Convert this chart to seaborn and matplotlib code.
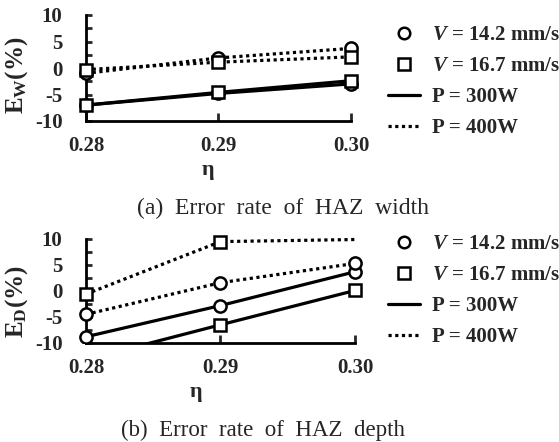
import matplotlib
matplotlib.use("Agg")
import matplotlib.pyplot as plt
import seaborn as sns
from matplotlib.lines import Line2D
from matplotlib.patches import Rectangle

sns.set_style("ticks")
plt.rcParams['font.family'] = ['Liberation Serif', 'DejaVu Serif']
plt.rcParams['mathtext.fontset'] = 'custom'
plt.rcParams['mathtext.rm'] = 'Liberation Serif:bold'
plt.rcParams['mathtext.bf'] = 'Liberation Serif:bold'
plt.rcParams['mathtext.it'] = 'Liberation Serif:bold:italic'
plt.rcParams['axes.unicode_minus'] = False

# ---- data ----
eta = [0.28, 0.29, 0.30]
eta_ticks = ["0.28", "0.29", "0.30"]
y_ticks = [-10, -5, 0, 5, 10]

# (a) HAZ width error rate (%)
w_300_v142 = [-7.0, -4.8, -3.0]
w_300_v167 = [-7.0, -4.6, -2.4]
w_400_v142 = [-1.0, 1.9, 3.7]
w_400_v167 = [-0.3, 1.1, 2.1]

# (b) HAZ depth error rate (%)
d_300_v142 = [-8.8, -2.8, 3.7]
d_300_v167 = [-13.2, -6.5, 0.1]
d_400_v142 = [-4.5, 1.6, 5.3]
d_400_v167 = [-0.6, 9.5, 9.9]

legend_labels = [r'$\mathit{V}$ = 14.2 mm/s', r'$\mathit{V}$ = 16.7 mm/s',
                 'P = 300W', 'P = 400W']
captions = ['(a)  Error  rate  of  HAZ  width', '(b)  Error  rate  of  HAZ  depth']

W, H = 559, 442
fig = plt.figure(figsize=(W / 100, H / 100), dpi=100)

def fx(px):
    return px / W

def fy(py):
    return 1 - py / H

ax1 = fig.add_axes([fx(86), fy(121), fx(351 - 86), (121 - 15) / H])
ax2 = fig.add_axes([fx(86), fy(343), fx(355 - 86), (343 - 239) / H])

DOT = (0, (1, 1.1))
LW = 2.3
MS = 8.8
MEW = 1.8
TFS = 15

def draw(ax, series):
    for vals, mk, ls, me in series:
        sns.lineplot(x=eta, y=vals, ax=ax, color='black', linestyle=ls, linewidth=LW,
                     marker=mk, markersize=MS, markerfacecolor='white',
                     markeredgecolor='black', markeredgewidth=MEW, markevery=me,
                     legend=False, zorder=3)
        line = ax.lines[-1]
        line.set_clip_on(True)
        # clip only below the x-axis (values out of range), keep edge markers whole
        rect = Rectangle((0.27, -10), 0.04, 30, transform=ax.transData)
        line.set_clip_path(rect)
    ax.set_xlim(0.28, 0.30)
    ax.set_ylim(-10, 10)
    ax.set_xticks(eta)
    ax.set_xticklabels(eta_ticks)
    ax.set_yticks(y_ticks)
    ax.set_yticks([-7.5, -2.5, 2.5, 7.5], minor=True)
    ax.set_xlabel('')
    ax.set_ylabel('')
    for s in ['top', 'right']:
        ax.spines[s].set_visible(False)
    for s in ['left', 'bottom']:
        ax.spines[s].set_linewidth(2.0)
        ax.spines[s].set_color('black')
    ax.tick_params(axis='y', which='both', direction='in', length=4, width=2.0, pad=17)
    ax.tick_params(axis='x', which='both', direction='in', length=6, width=2.0, pad=11)
    for lab in ax.get_xticklabels() + ax.get_yticklabels():
        lab.set_fontsize(TFS)
        lab.set_fontweight('bold')
    ax.set_facecolor('none')

draw(ax1, [
    (w_300_v142, 'o', '-', None),
    (w_300_v167, 's', '-', None),
    (w_400_v142, 'o', DOT, None),
    (w_400_v167, 's', DOT, None),
])
draw(ax2, [
    (d_300_v142, 'o', '-', None),
    (d_300_v167, 's', '-', None),
    (d_400_v142, 'o', DOT, None),
    (d_400_v167, 's', DOT, [0, 1]),
])

# y labels
fig.text(fx(17), fy(75), r'$\mathrm{E_W}$(%)', rotation=90, ha='center', va='center',
         fontsize=18, fontweight='bold')
fig.text(fx(17), fy(302), r'$\mathrm{E_D}$(%)', rotation=90, ha='center', va='center',
         fontsize=18, fontweight='bold')
# x labels
fig.text(fx(208), fy(170), 'η', ha='center', va='center', fontsize=TFS + 1, fontweight='bold')
fig.text(fx(196), fy(392), 'η', ha='center', va='center', fontsize=TFS + 1, fontweight='bold')
# captions
fig.text(fx(283), fy(208), captions[0], ha='center', va='center', fontsize=17)
fig.text(fx(263), fy(430), captions[1], ha='center', va='center', fontsize=16.5)

handles = [
    Line2D([], [], color='black', linestyle='none', marker='o', markersize=MS - 0.5,
           markerfacecolor='white', markeredgewidth=MEW),
    Line2D([], [], color='black', linestyle='none', marker='s', markersize=MS - 0.5,
           markerfacecolor='white', markeredgewidth=MEW),
    Line2D([], [], color='black', linestyle='-', linewidth=LW),
    Line2D([], [], color='black', linestyle=DOT, linewidth=LW),
]

for top in (25, 234):
    fig.legend(handles, legend_labels, loc='upper left',
               bbox_to_anchor=(fx(388), fy(top)), frameon=False,
               prop={'family': 'Liberation Serif', 'weight': 'bold', 'size': TFS},
               handlelength=1.55, handletextpad=0.55, labelspacing=0.53,
               borderpad=0, borderaxespad=0)

fig.savefig('out.png', dpi=100)
